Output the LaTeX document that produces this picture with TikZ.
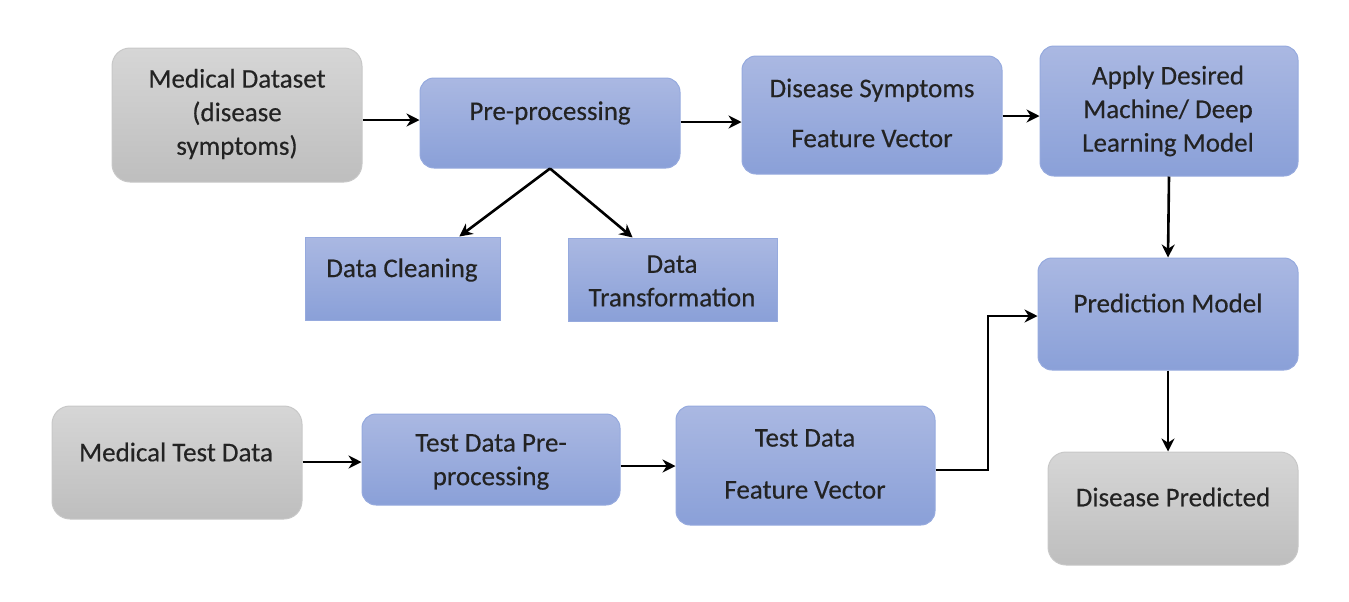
\documentclass[tikz,border=0pt]{standalone}
\usepackage{fontspec}
\setmainfont{Carlito}[FakeBold=0.3]
\usetikzlibrary{arrows.meta,calc}
\definecolor{gtop}{RGB}{214,214,214}
\definecolor{gbot}{RGB}{190,190,190}
\definecolor{gbrd}{RGB}{200,200,200}
\definecolor{btop}{RGB}{170,184,226}
\definecolor{bbot}{RGB}{138,160,216}
\definecolor{bbrd}{RGB}{150,170,222}
\definecolor{txtc}{RGB}{35,35,35}
\begin{document}
\begin{tikzpicture}[x=0.5pt,y=-0.5pt,
  graybox/.style={draw=gbrd,line width=0.5pt,top color=gtop,bottom color=gbot,rounded corners=9pt,inner sep=0pt},
  bluebox/.style={draw=bbrd,line width=0.5pt,top color=btop,bottom color=bbot,rounded corners=7pt,inner sep=0pt},
  bluerect/.style={draw=bbrd,line width=0.5pt,top color=btop,bottom color=bbot,inner sep=0pt},
  txt/.style={font=\fontsize{13.5pt}{16.8pt}\selectfont,text=txtc,align=center,inner sep=0pt},
  arr/.style={-{Stealth[length=6.5pt,width=6.5pt]},line width=1.3pt,black}]
\useasboundingbox (0,0) rectangle (1349,601);
% boxes
\node[graybox,minimum width=125pt,minimum height=67pt] (md) at (237,115) {};
\node[bluebox,minimum width=130pt,minimum height=45pt] (pp) at (550,123) {};
\node[bluebox,minimum width=130pt,minimum height=59pt] (ds) at (872,115) {};
\node[bluebox,minimum width=129pt,minimum height=65pt] (ap) at (1169,111) {};
\node[bluerect,minimum width=97.5pt,minimum height=41.5pt] (dc) at (402.5,278.5) {};
\node[bluerect,minimum width=104.5pt,minimum height=41.5pt] (dt) at (672.5,279.5) {};
\node[bluebox,minimum width=130pt,minimum height=56pt] (pm) at (1168,314) {};
\node[graybox,minimum width=125pt,minimum height=56.5pt] (mt) at (177,462.5) {};
\node[bluebox,minimum width=129pt,minimum height=45.5pt] (tp) at (491,459.5) {};
\node[bluebox,minimum width=129.5pt,minimum height=59.5pt] (tf) at (805.5,465.5) {};
\node[graybox,minimum width=125pt,minimum height=56.5pt] (dp) at (1173,508.5) {};
% texts
\node[txt] (tmd) at (237,114) {Medical Dataset\\(disease\\symptoms)};
\node[txt] (tpp) at (550,113) {Pre-processing};
\node[txt] (tds) at (872,113) {Disease Symptoms\\[8.2pt]Feature Vector};
\node[txt] (tap) at (1168,111) {Apply Desired\\Machine/ Deep\\Learning Model};
\node[txt] (tdc) at (402,270) {Data Cleaning};
\node[txt] (tdt) at (672,281) {Data\\Transformation};
\node[txt] (tpm) at (1168,303) {Prediction Model};
\node[txt] (tmt) at (176,452) {Medical Test Data};
\node[txt] (ttp) at (491,462) {Test Data Pre-\\processing};
\node[txt] (ttf) at (805,464) {Test Data\\[9.2pt]Feature Vector};
\node[txt] (tdp) at (1173,497) {Disease Predicted};
% connectors
\draw[arr] (md.east |- 0,120) -- (pp.west |- 0,120);
\draw[arr] (pp.east |- 0,122) -- (ds.west |- 0,122);
\draw[arr] (ds.east |- 0,116) -- (ap.west |- 0,116);
\draw[arr] (pp.south) -- ($(dc.north west)!0.79!(dc.north east)$);
\draw[arr] (pp.south) -- ($(dt.north west)!0.31!(dt.north east)$);
\draw[arr] (ap.south) -- (pm.north);
\draw[arr] (pm.south) -- (pm.south |- dp.north);
\draw[arr] (mt.east |- 0,462) -- (tp.west |- 0,462);
\draw[arr] (tp.east |- 0,466) -- (tf.west |- 0,466);
\draw[arr] (tf.east |- 0,470) -- (988,470) |- (pm.west |- 0,316);
\end{tikzpicture}
\end{document}
